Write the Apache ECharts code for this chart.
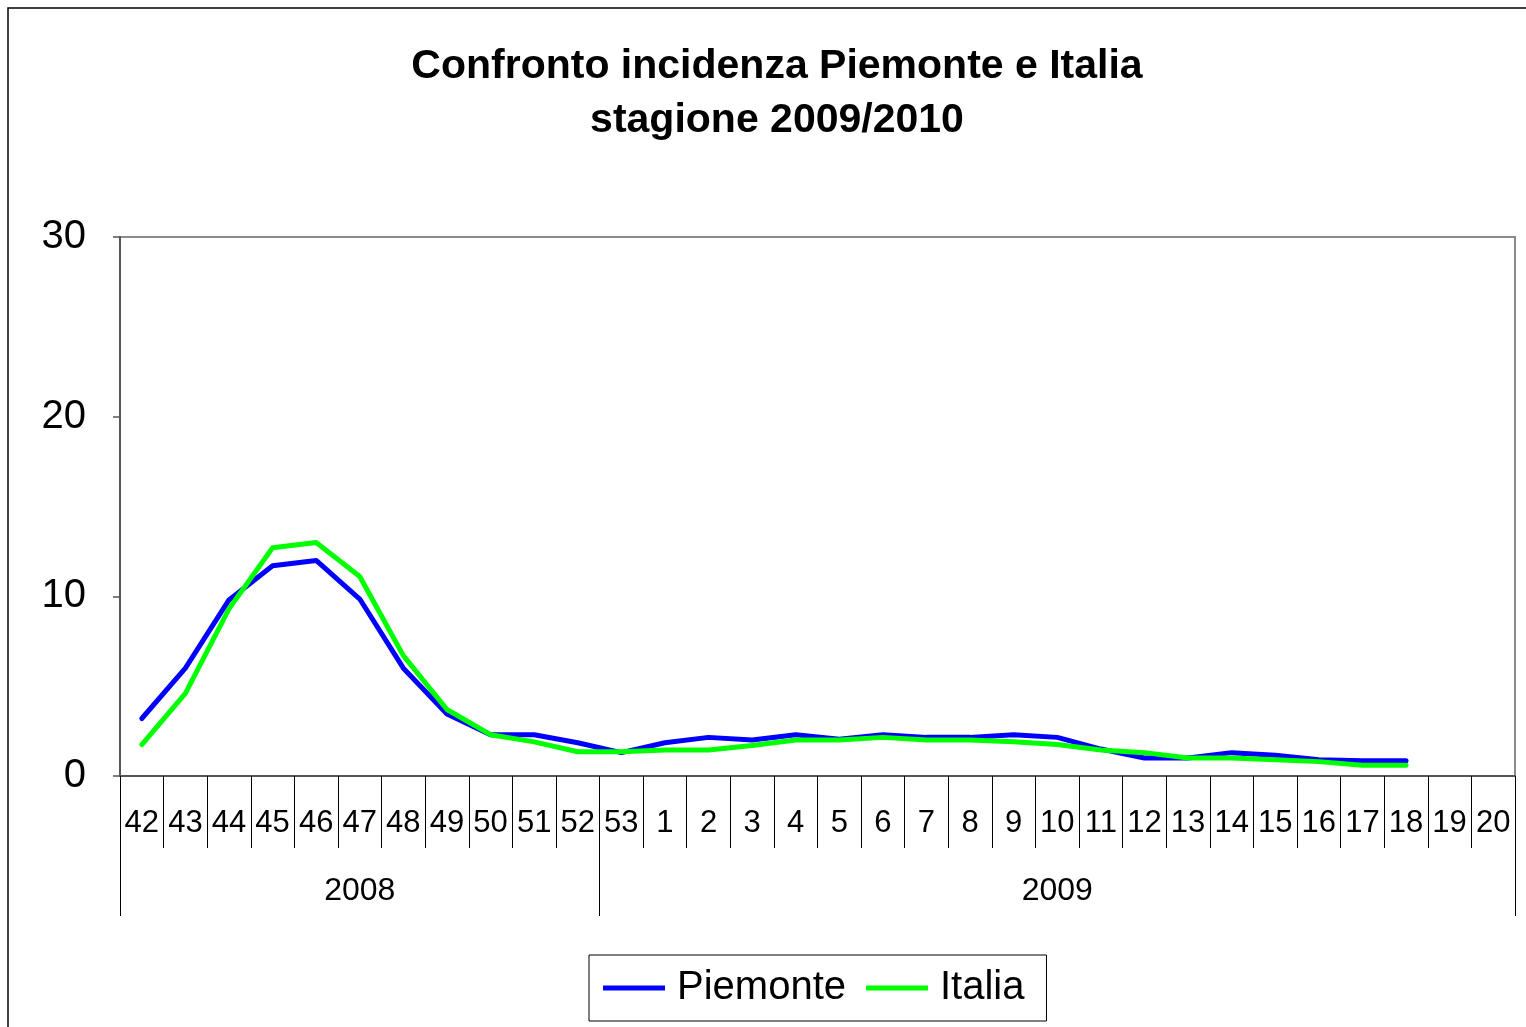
<!DOCTYPE html>
<html>
<head>
<meta charset="utf-8">
<script src="https://cdn.jsdelivr.net/npm/echarts@6/dist/echarts.min.js"></script>
<style>
  html, body { margin: 0; padding: 0; background: #fff; }
  #chart { width: 1526px; height: 1027px; }
</style>
</head>
<body>
<div id="chart"></div>
<script>
// week numbers of the season
const weeks = ['42', '43', '44', '45', '46', '47', '48', '49', '50', '51', '52', '53',
  '1', '2', '3', '4', '5', '6', '7', '8', '9', '10', '11', '12', '13', '14', '15', '16', '17', '18', '19', '20'];
// year groups under the weeks (as in the original, week 53 sits in the 2009 group)
const years = ['2008', '2009'];
const yearWeeks = [11, 21];

const piemonte = [3.2, 6.0, 9.8, 11.7, 12.0, 9.85, 6.0, 3.45, 2.3, 2.3, 1.85, 1.3,
  1.85, 2.15, 2.0, 2.3, 2.05, 2.3, 2.15, 2.15, 2.3, 2.15, 1.5, 1.0, 1.0, 1.3, 1.15, 0.9, 0.85, 0.85, null, null];
const italia = [1.75, 4.6, 9.3, 12.7, 13.0, 11.1, 6.7, 3.7, 2.3, 1.9, 1.35, 1.35,
  1.45, 1.45, 1.7, 2.0, 2.0, 2.15, 2.0, 2.0, 1.9, 1.75, 1.45, 1.3, 1.0, 1.0, 0.9, 0.8, 0.6, 0.6, null, null];

const yTicks = [0, 10, 20, 30];

// boundaries and centres of the year groups on a 0..n scale
const bounds = [0];
yearWeeks.forEach((n) => bounds.push(bounds[bounds.length - 1] + n));
const centres = yearWeeks.map((n, i) => bounds[i] + n / 2);

const font = 'Arial, "Liberation Sans", sans-serif';

const chart = echarts.init(document.getElementById('chart'));
chart.setOption({
  animation: false,
  backgroundColor: '#fff',
  textStyle: { fontFamily: font, color: '#000' },
  graphic: [
    {
      type: 'rect',
      shape: { x: 8, y: 8, width: 1600, height: 1100 },
      style: { fill: 'none', stroke: '#000', lineWidth: 1.5 },
      silent: true,
    },
  ],
  title: {
    text: 'Confronto incidenza Piemonte e Italia\nstagione 2009/2010',
    left: 772,
    textAlign: 'center',
    top: 35,
    textStyle: { fontSize: 41, fontWeight: 'bold', lineHeight: 54, fontFamily: font, color: '#000' },
  },
  legend: {
    bottom: 6,
    left: 589,
    data: ['Piemonte', 'Italia'],
    icon: 'rect',
    itemWidth: 62,
    itemHeight: 5,
    itemGap: 20,
    borderColor: '#000',
    borderWidth: 1,
    padding: [13, 22, 13, 14],
    textStyle: { fontSize: 40, fontFamily: font, color: '#000', padding: [0, 0, 0, 7] },
  },
  grid: {
    left: 120,
    right: 11,
    top: 237,
    bottom: 251,
    show: true,
    borderColor: '#8a8a8a',
    borderWidth: 2,
    containLabel: false,
  },
  xAxis: [
    {
      type: 'category',
      data: weeks,
      boundaryGap: true,
      position: 'bottom',
      axisLine: { lineStyle: { color: '#555', width: 2 } },
      axisTick: { show: true, interval: 0, length: 72, lineStyle: { color: '#000', width: 1 } },
      axisLabel: { interval: 0, margin: 32, fontSize: 31, fontFamily: font, color: '#000' },
    },
    {
      type: 'value',
      min: 0,
      max: bounds[bounds.length - 1],
      position: 'bottom',
      axisLine: { show: false },
      splitLine: { show: false },
      axisTick: { show: true, customValues: bounds, length: 140, lineStyle: { color: '#000', width: 1 } },
      axisLabel: {
        customValues: centres,
        margin: 99,
        fontSize: 32,
        fontFamily: font,
        color: '#000',
        formatter: (v) => years[centres.indexOf(v)] || '',
      },
    },
  ],
  yAxis: {
    type: 'value',
    min: yTicks[0],
    max: yTicks[yTicks.length - 1],
    interval: 10,
    axisLine: { show: true, lineStyle: { color: '#555', width: 2 } },
    axisTick: { show: true, length: 7, inside: false, lineStyle: { color: '#555', width: 1.5 } },
    splitLine: { show: false },
    axisLabel: { margin: 34, fontSize: 40, fontFamily: font, color: '#000' },
  },
  series: [
    {
      name: 'Piemonte',
      type: 'line',
      data: piemonte,
      symbol: 'none',
      color: '#0000ff',
      lineStyle: { color: '#0000ff', width: 5, cap: 'round', join: 'round' },
    },
    {
      name: 'Italia',
      type: 'line',
      data: italia,
      symbol: 'none',
      color: '#00ff00',
      lineStyle: { color: '#00ff00', width: 5, cap: 'round', join: 'round' },
    },
  ],
});
</script>
</body>
</html>
